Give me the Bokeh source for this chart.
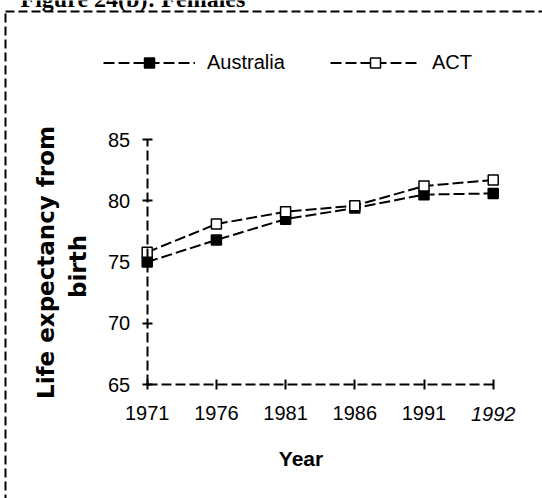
import numpy as np
from bokeh.plotting import figure
from bokeh.models import Range1d, FixedTicker, Label, Legend, LegendItem, BoxAnnotation
from bokeh.embed import file_html
from bokeh.resources import INLINE

# ---- data -------------------------------------------------------------
years = ["1971", "1976", "1981", "1986", "1991", "1992"]
australia = [75.0, 76.8, 78.5, 79.4, 80.5, 80.6]
act = [75.8, 78.1, 79.1, 79.6, 81.2, 81.7]
y_ticks = [65, 70, 75, 80, 85]

chart_title = "Figure 24(b): Females"
x_title = "Year"
y_title = ["Life expectancy from", "birth"]

# ---- layout (pixels) --------------------------------------------------
W, H = 542, 498
X_FIRST_PX, X_LAST_PX = 146.7, 492.7   # first / last year on the x axis
Y_LOW_PX, Y_HIGH_PX = 384.0, 139.0      # lowest / highest y tick

xs = list(range(len(years)))
x_per_px = (len(years) - 1) / (X_LAST_PX - X_FIRST_PX)
y_per_px = (y_ticks[-1] - y_ticks[0]) / (Y_LOW_PX - Y_HIGH_PX)


def dx(px):
    return (px - X_FIRST_PX) * x_per_px


def dy(py):
    return y_ticks[0] + (Y_LOW_PX - py) * y_per_px


p = figure(width=W, height=H, output_backend="svg", toolbar_location=None,
           x_range=Range1d(dx(0), dx(W)), y_range=Range1d(dy(H), dy(0)),
           min_border_left=0, min_border_right=0, min_border_top=0, min_border_bottom=0)
p.grid.visible = False
p.outline_line_color = None
p.background_fill_color = "white"
p.border_fill_color = "white"

AXIS_DASH = "10 4"
LABEL_FONT = "Liberation Sans"

# x axis: one tick per year, drawn through the y origin
xa = p.xaxis[0]
xa.fixed_location = y_ticks[0]
xa.bounds = (0, len(years) - 1)
xa.ticker = FixedTicker(ticks=xs)
xa.major_label_overrides = {i: (yr if i < len(years) - 1 else "") for i, yr in enumerate(years)}
xa.major_label_standoff = 16
xa.major_tick_in = 5
xa.major_tick_out = 5

# y axis drawn through the first year
ya = p.yaxis[0]
ya.fixed_location = 0
ya.bounds = (y_ticks[0], y_ticks[-1])
ya.ticker = FixedTicker(ticks=y_ticks)
ya.major_label_standoff = 12
ya.major_tick_in = 5
ya.major_tick_out = 5

for ax in (xa, ya):
    ax.axis_line_color = "black"
    ax.axis_line_width = 2
    ax.axis_line_dash = AXIS_DASH
    ax.major_tick_line_color = "black"
    ax.major_tick_line_width = 2
    ax.minor_tick_line_color = None
    ax.major_label_text_font = LABEL_FONT
    ax.major_label_text_font_size = "20px"
    ax.major_label_text_color = "black"

# last year label in italics
p.add_layout(Label(x=len(years) - 1, y=dy(413.5), text=years[-1], text_align="center",
                   text_baseline="middle", text_font=LABEL_FONT, text_font_size="20px",
                   text_font_style="italic", text_color="black"))

# ---- series -----------------------------------------------------------
SERIES_DASH = "11 4"
aus_line = p.line(xs, australia, line_color="black", line_width=2, line_dash=SERIES_DASH)
act_line = p.line(xs, act, line_color="black", line_width=2, line_dash=SERIES_DASH)
aus_pts = p.scatter(xs, australia, marker="square", size=10, fill_color="black",
                    line_color="black", line_width=1.5)
act_pts = p.scatter(xs, act, marker="square", size=10, fill_color="white",
                    line_color="black", line_width=1.5)

# ---- legend: two entries on one row -----------------------------------
for label, rends, left_px, glyph_w in [("Australia", [aus_line, aus_pts], 103, 92),
                                       ("ACT", [act_line, act_pts], 330, 90)]:
    lg = Legend(items=[LegendItem(label=label, renderers=rends)],
                location=(left_px, H - 74.5), orientation="horizontal",
                glyph_width=glyph_w, glyph_height=25, label_height=25,
                label_standoff=12, padding=0, margin=0, spacing=0,
                border_line_color=None, background_fill_alpha=0,
                label_text_font=LABEL_FONT, label_text_font_size="20px",
                label_text_color="black")
    p.add_layout(lg)

# ---- titles -------------------------------------------------------------
p.add_layout(Label(x=dx(300.5), y=dy(458), text=x_title, text_align="center",
                   text_baseline="middle", text_font=LABEL_FONT, text_font_size="21px",
                   text_font_style="bold", text_color="black"))

for line, mid_x_px, mid_y_px in [(y_title[0], 45, 262), (y_title[1], 77, 266)]:
    p.add_layout(Label(x=dx(mid_x_px), y=dy(mid_y_px), text=line, angle=np.pi / 2,
                       text_align="center", text_baseline="middle",
                       text_font="DejaVu Sans", text_font_size="23px",
                       text_font_style="bold", text_color="black"))

# page heading, mostly above the top edge
p.add_layout(Label(x=dx(20), y=dy(-2), text=chart_title, text_align="left",
                   text_baseline="middle", text_font="Liberation Serif",
                   text_font_size="24px", text_font_style="bold", text_color="black"))

# dashed frame around the figure (right and bottom edges run off the page)
p.add_layout(BoxAnnotation(left=dx(5), right=dx(W + 40), top=dy(11), bottom=dy(H + 40),
                           fill_color=None, fill_alpha=0, line_color="black", line_alpha=1,
                           line_width=2, line_dash="9 4"))

open("out.html", "w").write(file_html(p, INLINE))
